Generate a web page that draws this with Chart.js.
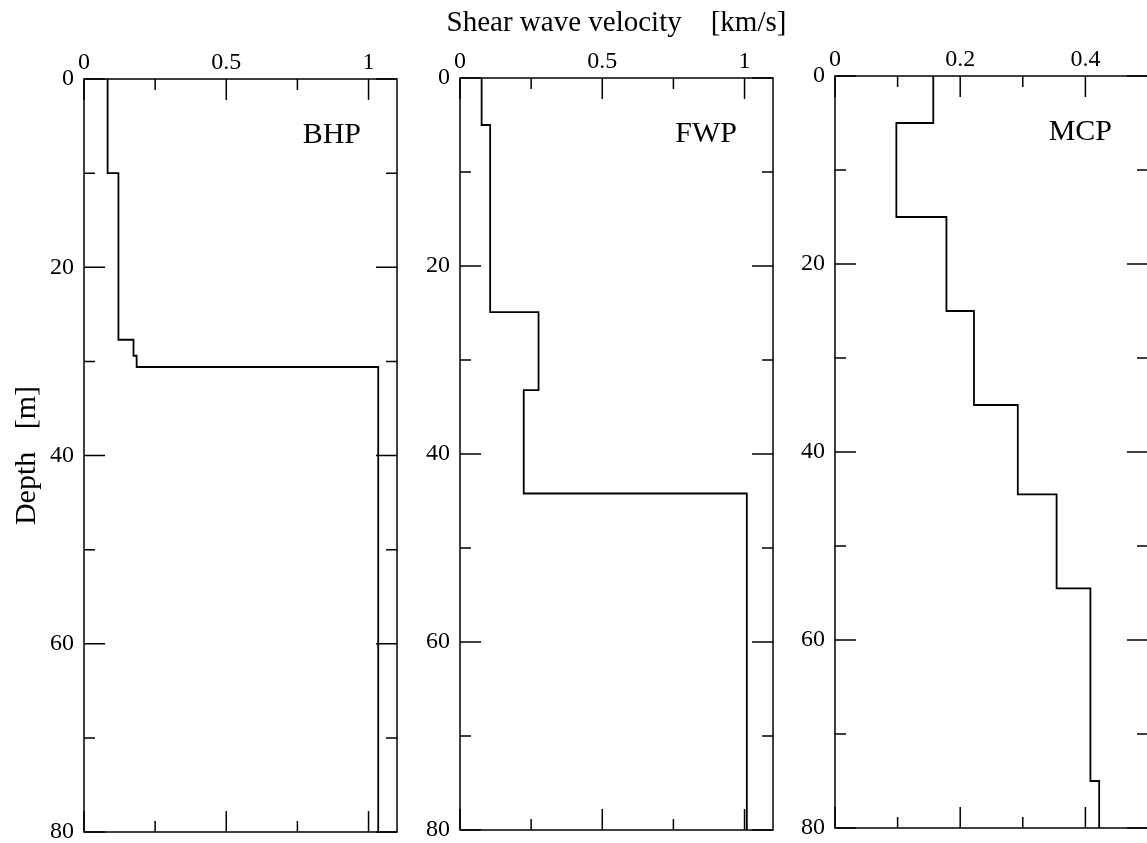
<!DOCTYPE html>
<html>
<head>
<meta charset="utf-8">
<script src="https://cdn.jsdelivr.net/npm/chart.js@4.4.0/dist/chart.umd.min.js"></script>
<style>
  html, body { margin: 0; padding: 0; background: #fff; overflow: hidden; }
  body { width: 1147px; height: 843px; position: relative; }
  canvas { position: absolute; top: 0; }
</style>
</head>
<body>
<canvas id="bhp" width="403" height="880" style="left:0px"></canvas>
<canvas id="fwp" width="419" height="880" style="left:400px"></canvas>
<canvas id="mcp" width="379" height="880" style="left:775px"></canvas>
<script>
// layer boundaries (m) and shear wave velocity of each layer (km/s)
const bhpDepth = [0, 10, 27.7, 29.4, 30.6, 80];
const bhpVs = [0.083, 0.121, 0.174, 0.185, 1.034];

const fwpDepth = [0, 5, 24.9, 33.2, 44.2, 80];
const fwpVs = [0.076, 0.106, 0.276, 0.224, 1.008];

const mcpDepth = [0, 5, 15, 25, 35, 44.5, 54.5, 75, 80];
const mcpVs = [0.157, 0.098, 0.178, 0.222, 0.292, 0.354, 0.408, 0.422];

const depthTicks = [0, 20, 40, 60, 80];

const canvasH = 880;

Chart.defaults.font.family = '"Liberation Serif", "DejaVu Serif", serif';
Chart.defaults.font.size = 24;
Chart.defaults.color = '#000';

// step profile: each layer is a vertical segment from its top to its bottom
function profile(depth, vs) {
  const pts = [];
  vs.forEach((v, i) => {
    pts.push({ x: v, y: depth[i] });
    pts.push({ x: v, y: depth[i + 1] });
  });
  return pts;
}

function isMultiple(v, step) {
  const r = v / step;
  return Math.abs(r - Math.round(r)) < 1e-6;
}

const frameTicks = {
  id: 'frameTicks',
  afterDatasetsDraw(chart, args, opts) {
    const { ctx, chartArea: a, scales: { x, y } } = chart;
    ctx.save();
    ctx.strokeStyle = '#000';
    ctx.lineWidth = 1.5;
    ctx.strokeRect(a.left, a.top, a.right - a.left, a.bottom - a.top);
    ctx.beginPath();
    x.ticks.forEach(t => {
      const px = x.getPixelForValue(t.value);
      const len = t.label !== '' ? 21 : 11;
      ctx.moveTo(px, a.top); ctx.lineTo(px, a.top + len);
      ctx.moveTo(px, a.bottom); ctx.lineTo(px, a.bottom - len);
    });
    y.ticks.forEach(t => {
      const py = y.getPixelForValue(t.value);
      const len = t.label !== '' ? 21 : 11;
      ctx.moveTo(a.left, py); ctx.lineTo(a.left + len, py);
      ctx.moveTo(a.right, py); ctx.lineTo(a.right - len, py);
    });
    ctx.stroke();

    ctx.fillStyle = '#000';
    ctx.font = '30px "Liberation Serif", serif';
    ctx.textAlign = 'right';
    ctx.textBaseline = 'middle';
    ctx.fillText(opts.name, a.right - 36, a.top + 56);
    if (opts.xTitle) {
      ctx.font = '29px "Liberation Serif", serif';
      ctx.textAlign = 'center';
      ctx.fillText(opts.xTitle, (a.left + a.right) / 2, 23);
    }
    ctx.restore();
  }
};

function makePanel(id, name, depth, vs, xMax, xStep, xLabelStep, top, bottom, yWidth, padRight, xTitle, yTitle) {
  new Chart(document.getElementById(id), {
    type: 'scatter',
    data: {
      datasets: [{
        label: name,
        data: profile(depth, vs),
        showLine: true,
        borderColor: '#000',
        borderWidth: 1.8,
        pointRadius: 0,
        tension: 0,
        clip: false
      }]
    },
    options: {
      responsive: false,
      animation: false,
      layout: { padding: { top: 0, left: 0, right: padRight, bottom: canvasH - bottom } },
      plugins: {
        legend: { display: false },
        tooltip: { enabled: false },
        frameTicks: { name: name, xTitle: xTitle }
      },
      scales: {
        x: {
          type: 'linear',
          position: 'top',
          min: 0,
          max: xMax,
          grid: { display: false, drawTicks: false },
          border: { display: false },
          ticks: {
            stepSize: xStep,
            includeBounds: false,
            autoSkip: false,
            maxRotation: 0,
            padding: 2,
            callback: v => isMultiple(v, xLabelStep) ? String(+v.toFixed(2)) : ''
          },
          afterFit: s => { s.height = top; }
        },
        y: {
          type: 'linear',
          position: 'left',
          reverse: true,
          min: 0,
          max: 80,
          grid: { display: false, drawTicks: false },
          border: { display: false },
          ticks: {
            stepSize: 10,
            autoSkip: false,
            padding: 10,
            callback: v => depthTicks.includes(v) ? String(v) : ''
          },
          title: {
            display: !!yTitle,
            text: yTitle,
            font: { size: 30 },
            padding: { top: 9, bottom: 0 }
          },
          afterFit: s => { s.width = yWidth; }
        }
      }
    },
    plugins: [frameTicks]
  });
}

makePanel('bhp', 'BHP', bhpDepth, bhpVs, 1.1, 0.25, 0.5, 79, 832, 84, 6, '', 'Depth   [m]');
makePanel('fwp', 'FWP', fwpDepth, fwpVs, 1.1, 0.25, 0.5, 78, 830, 60, 46, 'Shear wave velocity    [km/s]', '');
makePanel('mcp', 'MCP', mcpDepth, mcpVs, 0.5, 0.1, 0.2, 76, 828, 60, 6, '', '');
</script>
</body>
</html>
